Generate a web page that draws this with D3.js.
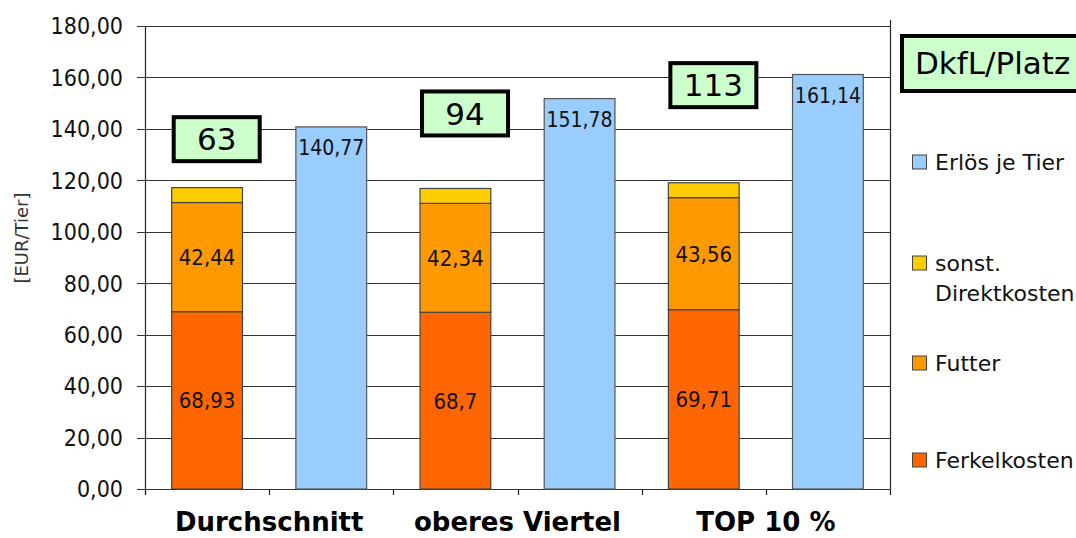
<!DOCTYPE html>
<html><head><meta charset="utf-8">
<script src="https://cdn.jsdelivr.net/npm/d3@7"></script>
<style>
html,body{margin:0;padding:0;background:#fff;}
svg{display:block;font-family:"DejaVu Sans Condensed","DejaVu Sans",sans-serif;}
</style></head>
<body>
<script>
// ---- data ----
const groups = ["Durchschnitt", "oberes Viertel", "TOP 10 %"];
const ferkelkosten = [68.93, 68.7, 69.71];
const futter = [42.44, 42.34, 43.56];
const sonstDirektkosten = [5.8, 5.8, 5.8];
const erloesJeTier = [140.77, 151.78, 161.14];
const dkflPlatz = [63, 94, 113];
const dkflBoxLevel = [136, 146, 157];   // y-level (EUR/Tier) of the annotation box centres
const yTicks = [0, 20, 40, 60, 80, 100, 120, 140, 160, 180];
const seriesNames = ["Erlös je Tier", "sonst. Direktkosten", "Futter", "Ferkelkosten"];
const colors = {ferkel: "#FF6600", futter: "#FF9900", sonst: "#FFCC00", erloes: "#99CCFF"};

(function () {
const W = 1076, H = 538;
const svg = d3.select("body").append("svg").attr("width", W).attr("height", H);
const WIDE = '"DejaVu Sans",sans-serif';

const pL = 145, pR = 890, pT = 26, pB = 489;
// six slots: each group = cost stack + revenue bar
const nSlots = groups.length * 2;
const x = d3.scaleBand().domain(d3.range(nSlots)).range([pL, pR]).paddingInner(0.43).paddingOuter(0.215);
const y = d3.scaleLinear().domain([0, 180]).range([pB, pT]);
const fmt = v => String(v).replace(".", ",");
const fmt2 = v => v.toFixed(2).replace(".", ",");

// grid lines
svg.append("g").selectAll("line").data(yTicks).join("line")
  .attr("x1", pL - 8).attr("x2", pR)
  .attr("y1", d => Math.round(y(d)) + 0.5).attr("y2", d => Math.round(y(d)) + 0.5)
  .attr("stroke", "#333").attr("stroke-width", 1.2);

// y tick labels
svg.append("g").selectAll("text").data(yTicks).join("text")
  .attr("x", 123).attr("y", d => y(d)).attr("dy", "0.36em")
  .attr("text-anchor", "end").attr("font-size", 23).attr("fill", "#111")
  .text(fmt2);

// axes lines
svg.append("line").attr("x1", pL + 0.5).attr("x2", pL + 0.5).attr("y1", pT).attr("y2", pB + 6).attr("stroke", "#222").attr("stroke-width", 1.2);
svg.append("line").attr("x1", pR + 0.5).attr("x2", pR + 0.5).attr("y1", pT - 6).attr("y2", pB).attr("stroke", "#222").attr("stroke-width", 1.2);
const step = x.step();
svg.append("g").selectAll("line").data(d3.range(nSlots + 1)).join("line")
  .attr("x1", d => Math.round(pL + d * step) + 0.5).attr("x2", d => Math.round(pL + d * step) + 0.5)
  .attr("y1", pB).attr("y2", pB + 6).attr("stroke", "#222").attr("stroke-width", 1.2);

// y title
svg.append("text").attr("transform", `translate(28,238) rotate(-90)`)
  .attr("text-anchor", "middle").attr("font-size", 18).attr("font-family", WIDE).attr("fill", "#333").text("[EUR/Tier]");

// stacked cost bars
const stackData = groups.map((g, i) => ({i, ferkel: ferkelkosten[i], futter: futter[i], sonst: sonstDirektkosten[i]}));
const stack = d3.stack().keys(["ferkel", "futter", "sonst"])(stackData);
const bw = x.bandwidth();
stack.forEach(layer => {
  svg.append("g").selectAll("rect").data(layer).join("rect")
    .attr("x", d => x(d.data.i * 2)).attr("width", bw)
    .attr("y", d => y(d[1])).attr("height", d => y(d[0]) - y(d[1]))
    .attr("fill", colors[layer.key]).attr("stroke", "#444").attr("stroke-width", 1.2);
  if (layer.key !== "sonst") {
    svg.append("g").selectAll("text").data(layer).join("text")
      .attr("x", d => x(d.data.i * 2) + bw / 2).attr("y", d => y((d[0] + d[1]) / 2)).attr("dy", "0.36em")
      .attr("text-anchor", "middle").attr("font-size", 22).attr("fill", "#111")
      .text(d => fmt(d.data[layer.key]));
  }
});

// revenue bars
svg.append("g").selectAll("rect").data(erloesJeTier).join("rect")
  .attr("x", (d, i) => x(i * 2 + 1)).attr("width", bw)
  .attr("y", d => y(d)).attr("height", d => y(0) - y(d))
  .attr("fill", colors.erloes).attr("stroke", "#555").attr("stroke-width", 1.2);
svg.append("g").selectAll("text").data(erloesJeTier).join("text")
  .attr("x", (d, i) => x(i * 2 + 1) + bw / 2).attr("y", d => y(d) + 28)
  .attr("text-anchor", "middle").attr("font-size", 21).attr("fill", "#111")
  .text(fmt);

// DkfL/Platz annotation boxes above each cost stack
const boxW = 86, boxH = 44;
dkflPlatz.forEach((v, i) => {
  const cx = x(i * 2);
  const cy = y(dkflBoxLevel[i]);
  const g = svg.append("g");
  g.append("rect").attr("x", cx + 2).attr("y", cy - boxH / 2).attr("width", boxW).attr("height", boxH)
    .attr("fill", "#CCFFCC").attr("stroke", "#000").attr("stroke-width", 4);
  g.append("text").attr("x", cx + 2 + boxW / 2).attr("y", cy).attr("dy", "0.36em")
    .attr("text-anchor", "middle").attr("font-size", 31).attr("font-family", WIDE).attr("fill", "#000").text(v);
});
// title box
svg.append("rect").attr("x", 902).attr("y", 36).attr("width", 190).attr("height", 55)
  .attr("fill", "#CCFFCC").attr("stroke", "#000").attr("stroke-width", 4);
svg.append("text").attr("x", 915).attr("y", 63).attr("dy", "0.36em")
  .attr("font-size", 31).attr("font-family", WIDE).attr("fill", "#000").text("DkfL/Platz");

// category labels
svg.append("g").selectAll("text").data(groups).join("text")
  .attr("x", (d, i) => pL + (i * 2 + 1) * step).attr("y", 531)
  .attr("text-anchor", "middle").attr("font-size", 26).attr("font-weight", "bold")
  .attr("font-family", WIDE).attr("fill", "#000")
  .text(d => d);

// legend
const legColors = [colors.erloes, colors.sonst, colors.futter, colors.ferkel];
const legY = [162, 263, 363, 460];
const leg = svg.append("g").attr("font-family", WIDE);
seriesNames.forEach((name, i) => {
  leg.append("rect").attr("x", 912.5).attr("y", legY[i] - 7).attr("width", 14).attr("height", 14)
    .attr("fill", legColors[i]).attr("stroke", "#444").attr("stroke-width", 1);
  const t = leg.append("text").attr("x", 935).attr("y", legY[i]).attr("dy", "0.36em")
    .attr("font-size", 22).attr("fill", "#111");
  if (name === "sonst. Direktkosten") {
    t.append("tspan").attr("x", 935).text("sonst.");
    t.append("tspan").attr("x", 935).attr("dy", "1.36em").text("Direktkosten");
  } else t.text(name);
});
})();
</script>
</body></html>
